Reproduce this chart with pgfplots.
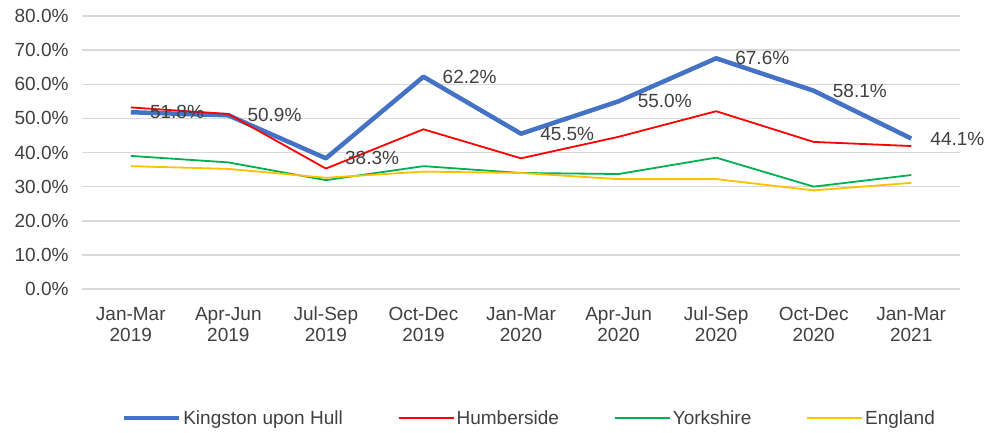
\documentclass[border=0pt]{standalone}
\usepackage{pgfplots}
\pgfplotsset{compat=1.18}
\usepackage{fontspec}
\setmainfont{Liberation Sans}
\definecolor{hull}{HTML}{4472C4}
\definecolor{humb}{HTML}{FF0000}
\definecolor{york}{HTML}{00B050}
\definecolor{eng}{HTML}{FFC000}
\definecolor{txt}{HTML}{404040}
\definecolor{gridc}{HTML}{D9D9D9}
\begin{document}
\begin{tikzpicture}
\path[use as bounding box] (-82pt,-143pt) rectangle (902pt,289pt);
\begin{axis}[
  at={(0pt,0pt)}, anchor=south west,
  scale only axis, width=878pt, height=273pt,
  xmin=-0.5, xmax=8.5, ymin=0, ymax=80,
  xtick={0,...,8},
  xticklabels={{\strut Jan-Mar\\\strut 2019},{\strut Apr-Jun\\\strut 2019},{\strut Jul-Sep\\\strut 2019},{\strut Oct-Dec\\\strut 2019},{\strut Jan-Mar\\\strut 2020},{\strut Apr-Jun\\\strut 2020},{\strut Jul-Sep\\\strut 2020},{\strut Oct-Dec\\\strut 2020},{\strut Jan-Mar\\\strut 2021}},
  ytick={0,10,...,80},
  yticklabel={\pgfmathprintnumber[fixed,fixed zerofill,precision=1]{\tick}\%},
  /pgf/number format/assume math mode=true,
  xmajorgrids=false, ymajorgrids=true,
  grid style={draw=gridc, line width=1.5pt},
  axis line style={draw=none},
  major tick length=0pt, tick style={draw=none},
  xticklabel style={align=center, font=\fontsize{19}{21}\selectfont, text=txt, yshift=-13pt},
  yticklabel style={font=\fontsize{19}{21}\selectfont, text=txt, xshift=-10pt},
  legend style={at={(0.5095,-0.473)}, anchor=center, draw=none, fill=none,
    legend columns=4, font=\fontsize{19}{21}\selectfont, text=txt,
    /tikz/every even column/.append style={column sep=53pt},
    /tikz/every odd column/.append style={column sep=0pt}},
  legend image code/.code={\draw[#1] (0pt,0pt) -- (55pt,0pt);},
]
\addplot[hull, line width=4.5pt, line join=round,
  nodes near coords={\pgfmathprintnumber[fixed,fixed zerofill,precision=1]{\pgfplotspointmeta}\%},
  point meta=y,
  every node near coord/.append style={anchor=west, inner sep=1pt, xshift=16pt, font=\fontsize{19}{21}\selectfont, text=txt}]
  coordinates {(0,51.8) (1,50.9) (2,38.3) (3,62.2) (4,45.5) (5,55.0) (6,67.6) (7,58.1) (8,44.1)};
\addlegendentry{Kingston upon Hull}
\addplot[humb, line width=1.8pt, line join=round]
  coordinates {(0,53.2) (1,51.3) (2,35.3) (3,46.8) (4,38.3) (5,44.6) (6,52.1) (7,43.1) (8,41.9)};
\addlegendentry{Humberside}
\addplot[york, line width=1.8pt, line join=round]
  coordinates {(0,39.0) (1,37.1) (2,31.9) (3,36.0) (4,34.0) (5,33.7) (6,38.5) (7,30.0) (8,33.4)};
\addlegendentry{Yorkshire}
\addplot[eng, line width=1.8pt, line join=round]
  coordinates {(0,36.0) (1,35.2) (2,32.6) (3,34.4) (4,34.0) (5,32.2) (6,32.2) (7,28.9) (8,31.1)};
\addlegendentry{England}
\end{axis}
\end{tikzpicture}
\end{document}
